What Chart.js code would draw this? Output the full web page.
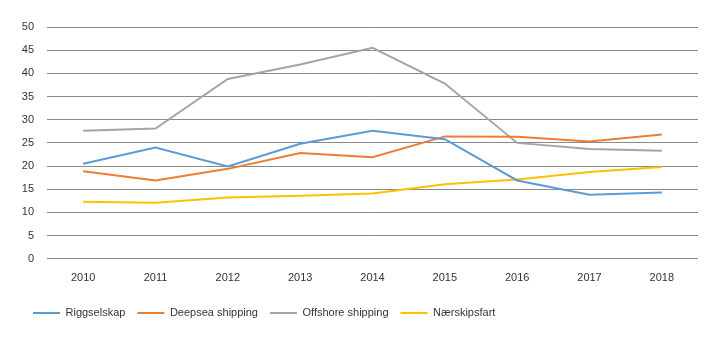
<!DOCTYPE html>
<html>
<head>
<meta charset="utf-8">
<script src="https://cdn.jsdelivr.net/npm/chart.js@4.4.1/dist/chart.umd.min.js"></script>
<style>
    html, body { margin: 0; padding: 0; background: #ffffff; }
    #wrap { width: 719px; height: 341px; }
</style>
</head>
<body>
<div id="wrap"><canvas id="chart" width="719" height="341"></canvas></div>
<script>
const years = ["2010", "2011", "2012", "2013", "2014", "2015", "2016", "2017", "2018"];

const riggselskap = [20.5, 24.0, 19.9, 24.8, 27.6, 25.8, 16.9, 13.8, 14.3];
const deepsea = [18.9, 16.9, 19.4, 22.8, 21.9, 26.4, 26.3, 25.3, 26.8];
const offshore = [27.6, 28.1, 38.8, 41.9, 45.5, 37.8, 25.0, 23.7, 23.3];
const naerskipsfart = [12.3, 12.1, 13.2, 13.6, 14.1, 16.1, 17.1, 18.7, 19.8];

const FONT = "'Liberation Sans', sans-serif";

function makeLine(label, data, color) {
    return {
        label: label,
        data: data,
        borderColor: color,
        backgroundColor: color,
        borderWidth: 2,
        pointRadius: 0,
        tension: 0
    };
}

// legend height is forced, then the box is nudged so the items sit where the reference has them
const legendFit = {
    id: "legendFit",
    beforeInit(chart) {
        const fit = chart.legend.fit;
        chart.legend.fit = function () {
            fit.bind(this)();
            this.height = 43;
        };
    },
    afterLayout(chart) {
        chart.legend.top -= 2.5;
        chart.legend.bottom -= 2.5;
    }
};

const ctx = document.getElementById("chart").getContext("2d");
new Chart(ctx, {
    type: "line",
    data: {
        labels: years,
        datasets: [
            makeLine("Riggselskap", riggselskap, "#5b9bd5"),
            makeLine("Deepsea shipping", deepsea, "#ed7d31"),
            makeLine("Offshore shipping", offshore, "#a5a5a5"),
            makeLine("Nærskipsfart", naerskipsfart, "#ffc000")
        ]
    },
    plugins: [legendFit],
    options: {
        responsive: false,
        animation: false,
        layout: { padding: { top: 27, right: 21, left: 21, bottom: 0 } },
        scales: {
            x: {
                offset: true,
                grid: { display: false, drawTicks: false },
                border: { display: false },
                ticks: { color: "#333", font: { family: FONT, size: 11 }, padding: 13, maxRotation: 0 }
            },
            y: {
                min: 0,
                max: 50,
                grid: { color: "#8a8a8a", lineWidth: 1, drawTicks: false },
                border: { display: false },
                ticks: { stepSize: 5, color: "#333", font: { family: FONT, size: 11 }, padding: 13 },
                afterFit(scale) { scale.width = 26; }
            }
        },
        plugins: {
            legend: {
                position: "bottom",
                align: "start",
                labels: {
                    usePointStyle: true,
                    pointStyle: "line",
                    pointStyleWidth: 27,
                    boxHeight: 11,
                    padding: 12,
                    color: "#333",
                    font: { family: FONT, size: 11 }
                }
            },
            tooltip: { enabled: false }
        }
    }
});
</script>
</body>
</html>
